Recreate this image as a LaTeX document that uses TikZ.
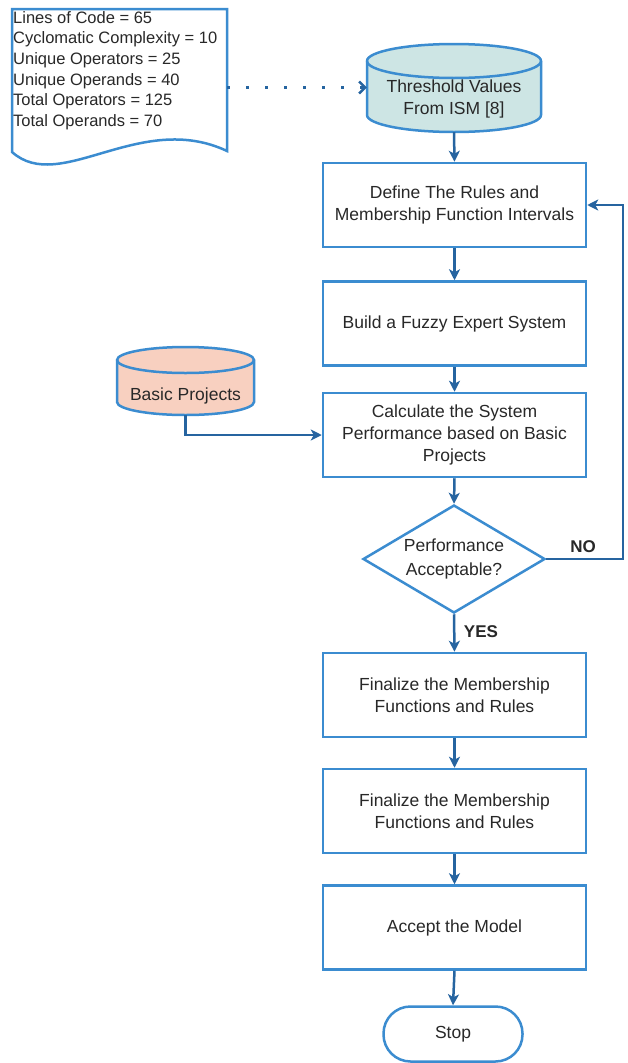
\documentclass[tikz,border=0pt]{standalone}
\usepackage{fontspec}
\setmainfont{Liberation Sans}
\usetikzlibrary{shapes.geometric,arrows.meta,calc}
\definecolor{boxblue}{RGB}{59,140,208}
\definecolor{arrowblue}{RGB}{38,100,160}
\definecolor{thrfill}{RGB}{205,229,228}
\definecolor{basicfill}{RGB}{248,208,192}
\definecolor{txt}{RGB}{40,40,40}
\begin{document}
\begin{tikzpicture}[x=1pt,y=-1pt,
  every node/.style={text=txt},
  procbox/.style={draw=boxblue,line width=2.5pt,fill=white,minimum width=263pt,minimum height=84pt,align=center,inner sep=2pt,font=\fontsize{17.5}{22}\selectfont},
  flowarrow/.style={draw=arrowblue,line width=2.5pt,-{Stealth[length=11pt,width=11pt,inset=3pt]}},
  dotarrow/.style={draw=arrowblue,line width=3pt,dash pattern=on 3pt off 16pt,-{Straight Barb[length=6pt,width=12pt,line width=2.5pt]}},
  celltext/.style={align=center,font=\fontsize{17.5}{22}\selectfont,inner sep=0pt},
  shapeline/.style={draw=boxblue,line width=2.5pt},
  blabel/.style={font=\fontsize{17}{20}\selectfont\bfseries,inner sep=0pt}
]
\useasboundingbox (0,0) rectangle (627,1063);
\fill[white] (0,0) rectangle (627,1063);

% document shape
\draw[shapeline,fill=white] (12,152) -- (12,9) -- (227,9) -- (227,151) .. controls (140,110) and (60,195) .. (12,152) -- cycle;
\node (doc) [anchor=north west,minimum width=215pt,minimum height=142pt,inner sep=0pt] at (12,9) {};
\node (doctext) [anchor=north west,align=left,inner sep=0pt,font=\fontsize{16.5}{20.7}\selectfont] at (13,11)
  {Lines of Code = 65\\Cyclomatic Complexity = 10\\Unique Operators = 25\\Unique Operands = 40\\Total Operators = 125\\Total Operands = 70};

% threshold cylinder
\filldraw[shapeline,fill=thrfill] (367,61) -- (367,115) arc[start angle=180,end angle=360,x radius=87pt,y radius=17pt] -- (541,61) arc[start angle=0,end angle=180,x radius=87pt,y radius=17pt] -- cycle;
\draw[shapeline] (367,61) arc[start angle=180,end angle=360,x radius=87pt,y radius=17pt];
\node (thr) [minimum width=174pt,minimum height=89pt,inner sep=0pt] at (454,87.5) {};
\node (thrtext) [celltext] at (454,99) {Threshold Values\\From ISM [8]};

% basic projects cylinder
\filldraw[shapeline,fill=basicfill] (117,360) -- (117,402) arc[start angle=180,end angle=360,x radius=68.5pt,y radius=13pt] -- (254,360) arc[start angle=0,end angle=180,x radius=68.5pt,y radius=13pt] -- cycle;
\draw[shapeline] (117,360) arc[start angle=180,end angle=360,x radius=68.5pt,y radius=13pt];
\node (basic) [minimum width=137pt,minimum height=68pt,inner sep=0pt] at (185.5,381) {};
\node (basictext) [celltext] at (185.5,396) {Basic Projects};

% process boxes
\node (b1) [procbox] at (454.5,205) {Define The Rules and\\Membership Function Intervals};
\node (b2) [procbox] at (454.5,323.5) {Build a Fuzzy Expert System};
\node (b3) [procbox] at (454.5,435) {Calculate the System\\Performance based on Basic\\Projects};
\node (dia) [diamond,draw=boxblue,line width=2.5pt,fill=white,aspect=1.7,minimum width=182pt,minimum height=108pt,inner sep=0pt,align=center,font=\fontsize{17.5}{24}\selectfont] at (454,559) {Performance\\Acceptable?};
\node (b4) [procbox] at (454.5,695) {Finalize the Membership\\Functions and Rules};
\node (b5) [procbox] at (454.5,811) {Finalize the Membership\\Functions and Rules};
\node (b6) [procbox] at (454.5,927.5) {Accept the Model};
\node (stop) [draw=boxblue,line width=2.5pt,fill=white,rounded corners=27pt,minimum width=139pt,minimum height=55pt,font=\fontsize{17.5}{22}\selectfont] at (453,1034) {Stop};

\coordinate (loopx) at (623,0);

% connectors
\draw[dotarrow] (doc.east |- thr.west) -- (thr.west);
\draw[flowarrow] (thr.south) -- (b1.north);
\draw[flowarrow] (b1.south) -- (b2.north);
\draw[flowarrow] (b2.south) -- (b3.north);
\draw[flowarrow] (basic.south) |- (b3.west);
\draw[flowarrow] (b3.south) -- (dia.north);
\draw[flowarrow] (dia.south) -- (b4.north);
\draw[flowarrow] (dia.east) -- (dia.east -| loopx) |- (b1.east);
\draw[flowarrow] (b4.south) -- (b5.north);
\draw[flowarrow] (b5.south) -- (b6.north);
\draw[flowarrow] (b6.south) -- (stop.north);

\node (no) [blabel] at (583,547) {NO};
\node (yes) [blabel] at (481,632) {YES};
\end{tikzpicture}
\end{document}
